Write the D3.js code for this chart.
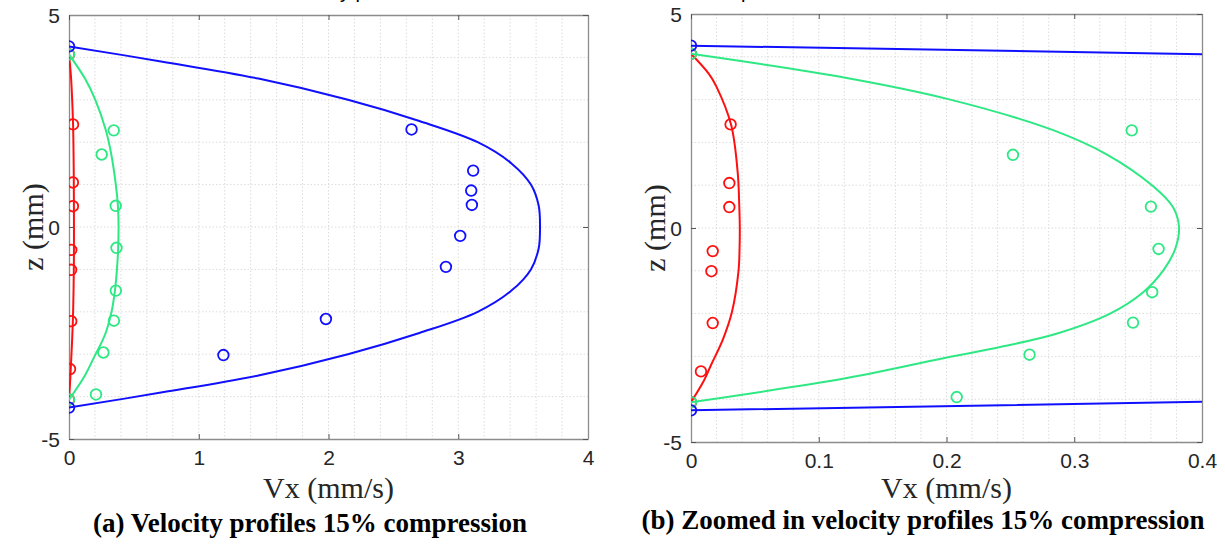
<!DOCTYPE html>
<html>
<head>
<meta charset="utf-8">
<script src="https://cdn.jsdelivr.net/npm/d3@7"></script>
<style>
  body { margin: 0; background: #fff; }
  .tick text { font-family: "Liberation Sans", Arial, sans-serif; font-size: 21px; fill: #262626; }
  .axlabel { font-family: "Liberation Serif", "Times New Roman", serif; font-size: 30px; fill: #262626; }
  .caption { font-family: "Liberation Serif", "Times New Roman", serif; font-size: 27px; font-weight: bold; fill: #000; }
  .cut { font-family: "Liberation Sans", Arial, sans-serif; font-size: 20px; fill: #000; }
</style>
</head>
<body>
<svg id="fig" width="1225" height="544"></svg>
<script>
// valores: Vx (mm/s) x z (mm)

// curvas do modelo
const blueCurveZ = [4.26, 3.9, 3.5, 3.0, 2.5, 2.0, 1.5, 1.0, 0.5, 0, -0.5, -1.0, -1.5, -2.0, -2.5, -3.0, -3.5, -3.9, -4.26];
const blueCurveV = [0, 0.72, 1.46, 2.15, 2.7, 3.15, 3.41, 3.56, 3.62, 3.63, 3.62, 3.56, 3.41, 3.15, 2.7, 2.15, 1.46, 0.72, 0];

const greenCurveZ = [4.07, 3.5, 3.0, 2.28, 1.71, 0.97, 0.5, 0.03, -0.49, -0.98, -1.5, -2.0, -2.47, -2.78, -3.01, -3.5, -4.07];
const greenCurveV = [0, 0.123, 0.203, 0.284, 0.326, 0.362, 0.377, 0.382, 0.379, 0.370, 0.354, 0.328, 0.286, 0.242, 0.203, 0.123, 0];

const redCurveZ = [4.07, 3.6, 3.31, 2.41, 1.28, 0.5, 0, -0.5, -1.0, -1.97, -2.6, -3.2, -3.6, -4.07];
const redCurveV = [0, 0.014, 0.0198, 0.0314, 0.0366, 0.0378, 0.0382, 0.038, 0.0372, 0.032, 0.025, 0.0157, 0.0095, 0];

// pontos medidos
const bluePointZ = [4.26, 2.30, 1.33, 0.86, 0.52, -0.21, -0.94, -2.17, -3.02, -4.26];
const bluePointV = [0, 2.64, 3.115, 3.10, 3.105, 3.015, 2.905, 1.98, 1.19, 0];

const greenPointZ = [4.07, 2.28, 1.71, 0.50, -0.49, -1.50, -2.21, -2.96, -3.95, -4.07];
const greenPointV = [0, 0.345, 0.252, 0.360, 0.366, 0.361, 0.346, 0.265, 0.208, 0];

const redPointZ = [4.07, 2.42, 1.05, 0.49, -0.54, -1.01, -2.22, -3.35, -4.07];
const redPointV = [0, 0.031, 0.030, 0.030, 0.017, 0.016, 0.017, 0.0078, 0];

// eixos
const zTicks = [-5, 0, 5];
const leftVTicks = [0, 1, 2, 3, 4];
const rightVTicks = [0, 0.1, 0.2, 0.3, 0.4];

const colors = { red: "#ff1010", green: "#2ee884", blue: "#1010ff" };

const series = [
    { name: "red", curveV: redCurveV, curveZ: redCurveZ, pointV: redPointV, pointZ: redPointZ },
    { name: "green", curveV: greenCurveV, curveZ: greenCurveZ, pointV: greenPointV, pointZ: greenPointZ },
    { name: "blue", curveV: blueCurveV, curveZ: blueCurveZ, pointV: bluePointV, pointZ: bluePointZ }
];

const svg = d3.select("#fig");

function drawPanel(p) {
    const x = d3.scaleLinear().domain([0, p.vMax]).range([p.left, p.right]);
    const y = d3.scaleLinear().domain([-5, 5]).range([p.bottom, p.top]);
    const g = svg.append("g");

    g.append("clipPath").attr("id", p.id + "-clip")
        .append("rect")
        .attr("x", p.left).attr("y", p.top)
        .attr("width", p.right - p.left).attr("height", p.bottom - p.top);

    // grade (minor)
    const grid = g.append("g")
        .attr("stroke", "#dcdcdc")
        .attr("stroke-width", 1)
        .attr("stroke-dasharray", "1.5,2");
    grid.selectAll("line.v")
        .data(d3.range(1, 20).map(i => i * p.vMax / 20))
        .join("line")
        .attr("class", "v")
        .attr("x1", d => x(d)).attr("x2", d => x(d))
        .attr("y1", p.top).attr("y2", p.bottom);
    grid.selectAll("line.h")
        .data(d3.range(-4, 5))
        .join("line")
        .attr("class", "h")
        .attr("x1", p.left).attr("x2", p.right)
        .attr("y1", d => y(d)).attr("y2", d => y(d));

    // eixos com ticks para dentro
    const axisColor = "#8c8c8c";
    const fmt = d => String(+d.toFixed(2));
    const ax = [
        g.append("g").attr("transform", `translate(0,${p.bottom})`)
            .call(d3.axisBottom(x).tickValues(p.vTicks).tickSizeInner(-5).tickSizeOuter(0).tickPadding(11).tickFormat(fmt)),
        g.append("g").attr("transform", `translate(${p.left},0)`)
            .call(d3.axisLeft(y).tickValues(zTicks).tickSizeInner(-5).tickSizeOuter(0).tickPadding(9).tickFormat(fmt)),
        g.append("g").attr("transform", `translate(0,${p.top})`)
            .call(d3.axisTop(x).tickValues(p.vTicks).tickSizeInner(-5).tickSizeOuter(0).tickFormat("")),
        g.append("g").attr("transform", `translate(${p.right},0)`)
            .call(d3.axisRight(y).tickValues(zTicks).tickSizeInner(-5).tickSizeOuter(0).tickFormat(""))
    ];
    ax.forEach(a => {
        a.select(".domain").attr("stroke", axisColor).attr("stroke-width", 1.3);
        a.selectAll(".tick line").attr("stroke", "#555");
    });
    ax[1].selectAll(".tick text").attr("dy", "0.35em");

    const line = d3.line()
        .x(d => x(d[0]))
        .y(d => y(d[1]))
        .curve(d3.curveCatmullRom.alpha(0.5));

    const plot = g.append("g").attr("clip-path", `url(#${p.id}-clip)`);
    series.forEach(s => {
        const pts = s.curveV.map((v, i) => [v, s.curveZ[i]]);
        plot.append("path")
            .datum(pts)
            .attr("d", line)
            .attr("fill", "none")
            .attr("stroke", colors[s.name])
            .attr("stroke-width", 2);
        plot.append("g")
            .selectAll("circle")
            .data(s.pointV.map((v, i) => [v, s.pointZ[i]]))
            .join("circle")
            .attr("cx", d => x(d[0]))
            .attr("cy", d => y(d[1]))
            .attr("r", 5.3)
            .attr("fill", "none")
            .attr("stroke", colors[s.name])
            .attr("stroke-width", 1.8);
    });

    // rótulos
    g.append("text")
        .attr("class", "axlabel")
        .attr("text-anchor", "middle")
        .attr("x", (p.left + p.right) / 2)
        .attr("y", 498)
        .text("Vx (mm/s)");
    g.append("text")
        .attr("class", "axlabel")
        .attr("text-anchor", "middle")
        .attr("transform", `translate(${p.left - 26},${y(0)}) rotate(-90)`)
        .text("z (mm)");
    g.append("text")
        .attr("class", "caption")
        .attr("text-anchor", "middle")
        .attr("x", p.capX)
        .attr("y", p.capY)
        .text(p.caption);
    // título cortado no topo da figura original
    g.append("text")
        .attr("class", "cut")
        .attr("x", p.cutX)
        .attr("y", -2)
        .text(p.cut);
}

drawPanel({
    id: "a", vMax: 4, vTicks: leftVTicks,
    left: 69, right: 588, top: 15, bottom: 439,
    caption: "(a) Velocity profiles 15% compression", capX: 310, capY: 532,
    cut: "Velocity profiles", cutX: 281
});

drawPanel({
    id: "b", vMax: 0.4, vTicks: rightVTicks,
    left: 691, right: 1202, top: 14, bottom: 442,
    caption: "(b) Zoomed in velocity profiles 15% compression", capX: 923, capY: 529,
    cut: "profiles", cutX: 741
});
</script>
</body>
</html>
